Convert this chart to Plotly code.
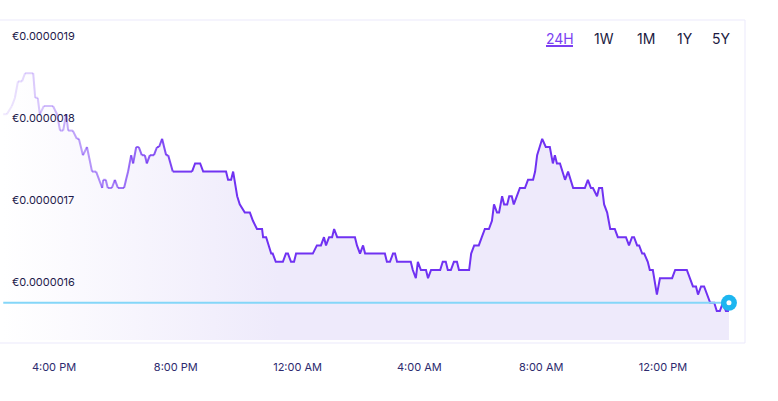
import pandas as pd
import plotly.graph_objects as go

# ---- data ----
# minutes after 14:00 on day 1
minutes = [20, 27, 37, 43, 49, 57, 63, 79, 83, 88, 92, 100, 118, 126, 132, 138, 144, 148, 157, 165,
           169, 177, 185, 195, 203, 215, 217, 222, 226, 234, 240, 246, 258, 266, 272, 276, 282, 287, 293, 299,
           303, 309, 317, 323, 327, 333, 341, 345, 354, 392, 398, 408, 414, 459, 463, 469, 473, 481, 486, 496,
           506, 512, 520, 530, 532, 538, 548, 551, 557, 571, 577, 581, 587, 593, 597, 630, 638, 646, 652, 656,
           662, 668, 672, 678, 713, 717, 723, 729, 733, 772, 776, 782, 788, 792, 796, 823, 827, 833, 837, 843,
           853, 857, 863, 881, 886, 892, 896, 902, 908, 914, 918, 938, 942, 948, 957, 963, 969, 977, 983, 987,
           993, 997, 1003, 1007, 1013, 1017, 1022, 1026, 1032, 1038, 1048, 1054, 1064, 1068, 1072, 1082, 1089, 1097, 1103, 1107,
           1111, 1117, 1127, 1133, 1143, 1166, 1172, 1178, 1182, 1190, 1194, 1200, 1204, 1210, 1216, 1225, 1231, 1247, 1253, 1259,
           1263, 1269, 1273, 1279, 1283, 1290, 1294, 1300, 1308, 1314, 1338, 1344, 1367, 1379, 1385, 1389, 1395, 1401, 1413, 1421,
           1426, 1432, 1438, 1444, 1450]
# price in units of 1e-8 EUR
price_e8 = [180, 180, 181, 182, 184, 184, 185, 185, 182, 182, 180, 181, 181, 180, 178, 178, 180, 178, 178, 177,
            177, 175, 176, 173, 173, 171, 172, 172, 171, 171, 172, 171, 171, 173, 175, 174, 176, 176, 175, 175,
            174, 175, 175, 176, 176, 177, 175, 175, 173, 173, 174, 174, 173, 173, 172, 172, 173, 170, 169, 168,
            168, 167, 166, 166, 165, 165, 163, 163, 162, 162, 163, 163, 162, 162, 163, 163, 164, 164, 165, 164,
            165, 165, 166, 165, 165, 164, 163, 164, 163, 163, 162, 162, 163, 163, 162, 162, 161, 160, 162, 161,
            161, 160, 161, 161, 162, 162, 161, 161, 162, 162, 161, 161, 163, 164, 164, 165, 166, 166, 167, 169,
            168, 168, 170, 169, 169, 170, 170, 169, 170, 171, 171, 172, 172, 173, 175, 177, 176, 176, 174, 175,
            174, 174, 172, 173, 171, 171, 172, 171, 171, 170, 171, 171, 169, 168, 166, 166, 165, 165, 164, 165,
            165, 164, 164, 163, 163, 162, 161, 161, 158, 160, 160, 161, 161, 159, 159, 158, 159, 159, 157, 157,
            156, 156, 157, 156, 156]
reference_e8 = 157.0
y_ticks = [1.6e-6, 1.7e-6, 1.8e-6, 1.9e-6]
y_tick_text = ["€0.0000016", "€0.0000017", "€0.0000018", "€0.0000019"]
ranges = ["24H", "1W", "1M", "1Y", "5Y"]

base = pd.Timestamp("2024-01-01 14:00")
times = [base + pd.Timedelta(minutes=m) for m in minutes]
prices = [p * 1e-8 for p in price_e8]
reference = reference_e8 * 1e-8

# ---- layout geometry ----
W, H = 778, 401
ML, MR, MT, MB = 0, 33, 20, 61
PW, PH = W - ML - MR, H - MT - MB
x_range = [base + pd.Timedelta(minutes=13.6), base + pd.Timedelta(minutes=1481.6)]
y_range = [1.52463e-6, 1.91488e-6]

LINE = (112, 50, 242)
FILL = "rgba(238,234,251,1)"

fig = go.Figure()

# area fill with horizontal gradient
fig.add_trace(go.Scatter(
    x=times, y=prices, mode="lines", line=dict(width=0),
    fill="tozeroy",
    fillgradient=dict(type="horizontal",
                      colorscale=[[0, "rgba(238,234,251,0)"], [0.38, FILL], [1, FILL]]),
    hoverinfo="skip", showlegend=False))

# line with fading start (segments)
t0 = x_range[0]
span = (x_range[1] - x_range[0]).total_seconds()
fade_px = 190.0
split = None
for i in range(len(times) - 1):
    px = (times[i] - t0).total_seconds() / span * PW
    px2 = (times[i + 1] - t0).total_seconds() / span * PW
    pm = (px + px2) / 2
    a = min(1.0, 0.08 + 0.92 * pm / fade_px)
    if a >= 1.0:
        split = i
        break
    fig.add_trace(go.Scatter(
        x=times[i:i + 2], y=prices[i:i + 2], mode="lines",
        line=dict(color=f"rgba({LINE[0]},{LINE[1]},{LINE[2]},{a:.3f})", width=2),
        hoverinfo="skip", showlegend=False))
fig.add_trace(go.Scatter(
    x=times[split:], y=prices[split:], mode="lines",
    line=dict(color=f"rgb({LINE[0]},{LINE[1]},{LINE[2]})", width=2),
    showlegend=False))

# reference line
fig.add_trace(go.Scatter(
    x=[times[0], times[-1]], y=[reference, reference], mode="lines",
    line=dict(color="#84d6f8", width=2), hoverinfo="skip", showlegend=False))
# end dot
fig.add_trace(go.Scatter(
    x=[times[-1]], y=[reference], mode="markers",
    marker=dict(size=16, color="#1db6f0", line=dict(width=0)),
    hoverinfo="skip", showlegend=False))
fig.add_trace(go.Scatter(
    x=[times[-1]], y=[reference], mode="markers",
    marker=dict(size=5, color="white", line=dict(width=0)),
    hoverinfo="skip", showlegend=False))

def px_x(p):
    return (p - ML) / PW

def px_y(p):
    return (H - MB - p) / PH

# y-axis labels drawn inside the plot, placed by the y scale
for val, txt in zip(y_ticks, y_tick_text):
    fig.add_annotation(text=txt, x=px_x(10), y=val, xref="paper", yref="y",
                       showarrow=False, xanchor="left", yanchor="middle", yshift=-4,
                       font=dict(family="Inter", size=11, color="#1e1b4b"))

# container box
fig.add_shape(type="rect", xref="paper", yref="paper",
              x0=-0.02, x1=1.0, y0=px_y(343), y1=px_y(20),
              line=dict(color="#ebe9fb", width=1), fillcolor="rgba(0,0,0,0)", layer="below")

# range selector
centers = [559.5, 604, 646, 685, 721.5]
for name, cx in zip(ranges, centers):
    fig.add_annotation(text=name, x=px_x(cx), y=px_y(38), xref="paper", yref="paper",
                       showarrow=False, xanchor="center", yanchor="middle",
                       font=dict(family="Inter", size=14,
                                 color="#7b3ff2" if name == "24H" else "#1c1a3f"))
fig.add_shape(type="line", xref="paper", yref="paper",
              x0=px_x(546), x1=px_x(573), y0=px_y(46), y1=px_y(46),
              line=dict(color="#7b3ff2", width=2))

fig.update_layout(
    width=W, height=H, margin=dict(l=ML, r=MR, t=MT, b=MB),
    paper_bgcolor="white", plot_bgcolor="white",
    showlegend=False,
    xaxis=dict(range=x_range, showgrid=False, zeroline=False, showline=False,
               ticks="", tickformat="%-I:%M %p", dtick=4 * 3600 * 1000,
               tick0="2024-01-01 00:00", ticklabelstandoff=19,
               tickfont=dict(family="Inter", size=11, color="#2d2a6e")),
    yaxis=dict(range=y_range, showgrid=False, zeroline=False, showline=False,
               ticks="", showticklabels=False),
)

fig.write_html("out.html")
